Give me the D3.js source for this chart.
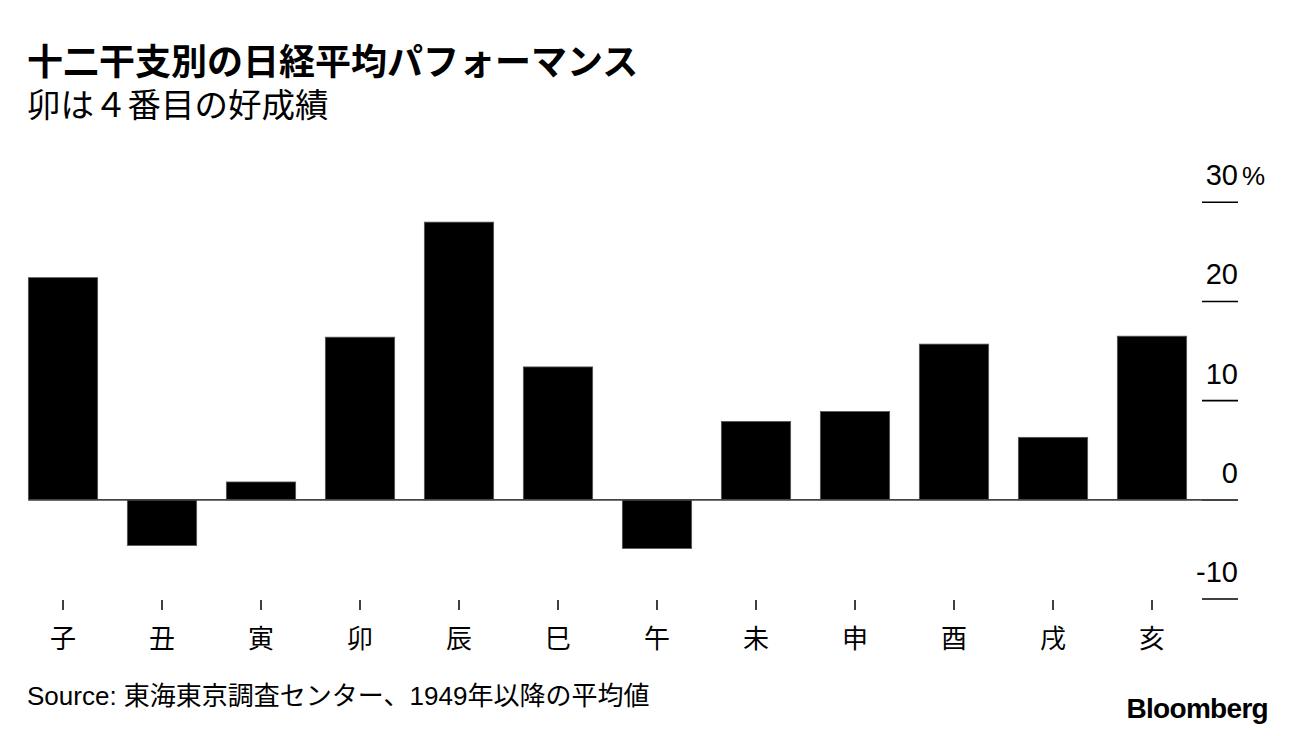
<!DOCTYPE html>
<html>
<head>
<meta charset="utf-8">
<script src="https://cdn.jsdelivr.net/npm/d3@7/dist/d3.min.js"></script>
<style>
  html, body { margin: 0; padding: 0; background: #fff; }
  svg { display: block; }
  text { font-family: "Liberation Sans", "Noto Sans CJK JP", sans-serif; fill: #000; }
</style>
</head>
<body>
<svg id="chart" width="1296" height="736"></svg>
<script>
const categories = ["子", "丑", "寅", "卯", "辰", "巳", "午", "未", "申", "酉", "戌", "亥"];
const values = [22.4, -4.6, 1.8, 16.4, 28.0, 13.4, -4.9, 7.9, 8.9, 15.7, 6.3, 16.5];
const yTicks = [-10, 0, 10, 20, 30];
const yTickLabels = ["-10", "0", "10", "20", "30"];
const title = "十二干支別の日経平均パフォーマンス";
const subtitle = "卯は４番目の好成績";
const source = "Source: 東海東京調査センター、1949年以降の平均値";

const svg = d3.select("#chart");

const x = d3.scaleBand()
  .domain(categories)
  .range([13.5, 1201.5])
  .paddingInner(0.3)
  .paddingOuter(0.15);

const y = d3.scaleLinear()
  .domain([-10, 30])
  .range([599, 202.3]);

// Title
svg.append("text")
  .attr("x", 27).attr("y", 75)
  .attr("font-size", 36).attr("font-weight", "bold")
  .text(title);
svg.append("text")
  .attr("x", 27).attr("y", 117)
  .attr("font-size", 33.5)
  .text(subtitle);

// Right axis tick lines and labels
const yAxis = svg.append("g");
yAxis.selectAll("line.tick")
  .data(yTicks)
  .join("line")
  .attr("x1", 1202).attr("x2", 1238)
  .attr("y1", d => y(d)).attr("y2", d => y(d))
  .attr("stroke", "#000").attr("stroke-width", 1.6);
yAxis.selectAll("text.tl")
  .data(yTicks)
  .join("text")
  .attr("class", "tl")
  .attr("x", 1238)
  .attr("y", d => y(d) - 17)
  .attr("text-anchor", "end")
  .attr("font-size", 29)
  .text((d, i) => yTickLabels[i]);
svg.append("text")
  .attr("x", 1242).attr("y", y(30) - 17)
  .attr("font-size", 26)
  .text("%");

// Bars
svg.append("g").selectAll("rect")
  .data(values)
  .join("rect")
  .attr("x", (d, i) => x(categories[i]))
  .attr("width", x.bandwidth())
  .attr("y", d => y(Math.max(0, d)))
  .attr("height", d => Math.abs(y(d) - y(0)))
  .attr("fill", "#000")
  .attr("stroke", "#555")
  .attr("stroke-width", 0.8);

// Zero line
svg.append("line")
  .attr("x1", x(categories[0])).attr("x2", 1238)
  .attr("y1", y(0)).attr("y2", y(0))
  .attr("stroke", "#444").attr("stroke-width", 1.6);

// Bottom category ticks and labels
const xAxis = svg.append("g");
xAxis.selectAll("line")
  .data(categories)
  .join("line")
  .attr("x1", d => x(d) + x.bandwidth() / 2)
  .attr("x2", d => x(d) + x.bandwidth() / 2)
  .attr("y1", 600).attr("y2", 610)
  .attr("stroke", "#000").attr("stroke-width", 1.5);
xAxis.selectAll("text")
  .data(categories)
  .join("text")
  .attr("x", d => x(d) + x.bandwidth() / 2)
  .attr("y", 648)
  .attr("text-anchor", "middle")
  .attr("font-size", 26)
  .text(d => d);

// Source
svg.append("text")
  .attr("x", 27).attr("y", 705)
  .attr("font-size", 26)
  .text(source);

// Logo
svg.append("text")
  .attr("x", 1268).attr("y", 718)
  .attr("text-anchor", "end")
  .attr("font-size", 28).attr("font-weight", "bold")
  .attr("letter-spacing", -0.7)
  .text("Bloomberg");
</script>
</body>
</html>
